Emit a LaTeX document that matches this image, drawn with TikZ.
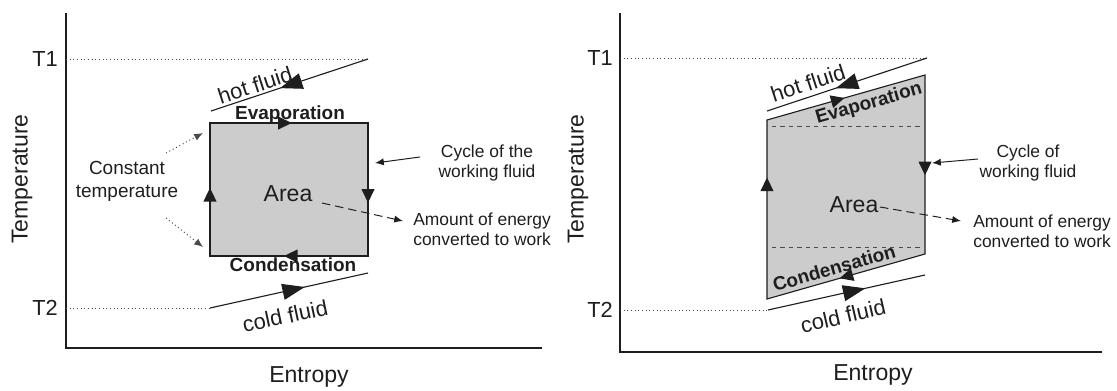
\documentclass[tikz,border=0pt]{standalone}
\usepackage{fontspec}
\setmainfont{Liberation Sans}
\usetikzlibrary{arrows.meta,decorations.markings}
\definecolor{tsInk}{HTML}{1E1E1E}
\definecolor{tsFill}{HTML}{CCCCCC}
\definecolor{tsDot}{HTML}{4A4A4A}
\tikzset{
  ts diagram/.style={x=0.025cm, y=-0.025cm, text=tsInk, line join=miter},
  ts big/.style={font=\fontsize{16.4}{19}\selectfont, inner sep=0pt},
  ts level label/.style={font=\fontsize{15.5}{18}\selectfont, inner sep=0pt},
  ts bold/.style={font=\fontsize{13.5}{16}\selectfont\bfseries, inner sep=0pt},
  ts fluid label/.style={font=\fontsize{15.6}{18}\selectfont, inner sep=0pt},
  ts note/.style={font=\fontsize{12.4}{14.3}\selectfont, align=center, inner sep=0pt},
  ts side/.style={font=\fontsize{13.5}{16.4}\selectfont, align=center, inner sep=0pt},
  ts axis/.style={draw=tsInk, line width=1.4pt},
  ts level/.style={draw=tsDot, dotted, line width=0.6pt},
  ts cycle/.style={draw=tsInk, fill=tsFill, line width=0.8pt},
  ts line/.style={draw=tsInk, line width=0.8pt},
  ts tip/.style={postaction={decorate, decoration={markings,
    mark=at position #1 with {\arrow{Triangle[length=3.4mm,width=3.2mm]}}}}},
  ts flow/.style={postaction={decorate, decoration={markings,
    mark=at position #1 with {\arrow{Triangle[length=5.6mm,width=4mm]}}}}},
  ts pointer/.style={draw=tsInk, line width=0.7pt, -{Latex[length=2.2mm,width=1.8mm]}},
  ts work/.style={ts pointer, dash pattern=on 6pt off 3.5pt},
  ts hint/.style={ts pointer, draw=tsDot, dotted},
  ts inner/.style={draw=tsDot, dashed, line width=0.4pt}
}

\begin{document}
\begin{tikzpicture}[ts diagram]
\useasboundingbox (0,0) rectangle (1117,390);
% axes, levels T1/T2 and axis titles of both panels
\foreach \p/\ox/\oy/\xe/\tx/\ya/\yb/\ex/\ey/\lx in
    {l/66/348/542/45/59/308/309/377/22, r/620/352/1102/600/58/310/873/375/578}{
  \coordinate (top\p) at (\ox,13);
  \coordinate (org\p) at (\ox,\oy);
  \coordinate (end\p) at (\xe,\oy);
  \draw[ts axis] (top\p) -- (org\p) -- (end\p);
  \coordinate (lvHot\p) at (\ox,\ya);
  \coordinate (lvCold\p) at (\ox,\yb);
  \node[ts level label] (hiT\p) at (\tx,\ya) {T1};
  \node[ts level label] (loT\p) at (\tx,\yb) {T2};
  \node[ts big] (entropy\p) at (\ex,\ey) {Entropy};
  \node[ts big, rotate=90] (temp\p) at (\lx,179) {Temperature};
}

% left panel: ideal cycle
\coordinate (hotInl) at (368,59);
\coordinate (hotOutl) at (211,111);
\coordinate (coldInl) at (210,308);
\coordinate (coldOutl) at (368,273);
\draw[ts level] (lvHotl) -- (hotInl);
\draw[ts level] (lvColdl) -- (coldInl);
\draw[ts line, ts flow=0.56] (hotInl) -- (hotOutl);
\draw[ts line, ts flow=0.6] (coldInl) -- (coldOutl);
\coordinate (bll) at (210,256);
\coordinate (tll) at (210,123);
\coordinate (trl) at (368,123);
\coordinate (brl) at (368,256);
\draw[ts cycle, ts tip=0.117, ts tip=0.369, ts tip=0.637, ts tip=0.873]
  (bll) -- (tll) -- (trl) -- (brl) -- cycle;
\node[ts fluid label, rotate=18] (hotl) at (255,85) {hot fluid};
\node[ts fluid label, rotate=12] (coldl) at (285,316) {cold fluid};
\node[ts bold] (evapl) at (290,115) {Evaporation};
\node[ts bold] (condl) at (293,265) {Condensation};
\node[ts big] (areal) at (288,194) {Area};
\node[ts note, anchor=west] (workl) at (413,229) {Amount of energy\\converted to work};
\node[ts note] (fluidl) at (487,163) {Cycle of the\\working fluid};
\node[ts side] (constl) at (127,181) {Constant\\temperature};
\coordinate (areaOutl) at (322,203);
\coordinate (workInl) at (403,221);
\draw[ts work] (areaOutl) -- (workInl);
\coordinate (fluidOutl) at (420,157);
\coordinate (fluidInl) at (375,163);
\draw[ts pointer] (fluidOutl) -- (fluidInl);
\coordinate (hintUp) at (166,153);
\coordinate (hintUpEnd) at (203,133);
\coordinate (hintDown) at (166,218);
\coordinate (hintDownEnd) at (203,247);
\draw[ts hint] (hintUp) -- (hintUpEnd);
\draw[ts hint] (hintDown) -- (hintDownEnd);

% right panel: real cycle
\coordinate (hotInr) at (927,58);
\coordinate (hotOutr) at (767,111);
\coordinate (coldInr) at (768,310);
\coordinate (coldOutr) at (925,275);
\draw[ts level] (lvHotr) -- (hotInr);
\draw[ts level] (lvColdr) -- (coldInr);
\draw[ts line, ts flow=0.57] (hotInr) -- (hotOutr);
\draw[ts line, ts flow=0.62] (coldInr) -- (coldOutr);
\coordinate (blr) at (767,299);
\coordinate (tlr) at (767,120);
\coordinate (trr) at (925,75);
\coordinate (brr) at (925,254);
\draw[ts cycle, ts tip=0.177, ts tip=0.378, ts tip=0.646, ts tip=0.89]
  (blr) -- (tlr) -- (trr) -- (brr) -- cycle;
\coordinate (evapEdge) at (772,126);
\coordinate (evapEdgeEnd) at (920,126);
\coordinate (condEdge) at (772,247);
\coordinate (condEdgeEnd) at (920,247);
\draw[ts inner] (evapEdge) -- (evapEdgeEnd);
\draw[ts inner] (condEdge) -- (condEdgeEnd);
\node[ts fluid label, rotate=18] (hotr) at (808,83) {hot fluid};
\node[ts fluid label, rotate=13] (coldr) at (843,316) {cold fluid};
\node[ts bold, rotate=16] (evapr) at (869,104) {Evaporation};
\node[ts bold, rotate=16] (condr) at (834,268) {Condensation};
\node[ts big] (arear) at (854,205) {Area};
\node[ts note, anchor=west] (workr) at (973,231) {Amount of energy\\converted to work};
\node[ts note] (fluidr) at (1028,163) {Cycle of\\working fluid};
\coordinate (areaOutr) at (880,207);
\coordinate (workInr) at (961,221);
\draw[ts work] (areaOutr) -- (workInr);
\coordinate (fluidOutr) at (978,159);
\coordinate (fluidInr) at (932,163);
\draw[ts pointer] (fluidOutr) -- (fluidInr);
\end{tikzpicture}
\end{document}
